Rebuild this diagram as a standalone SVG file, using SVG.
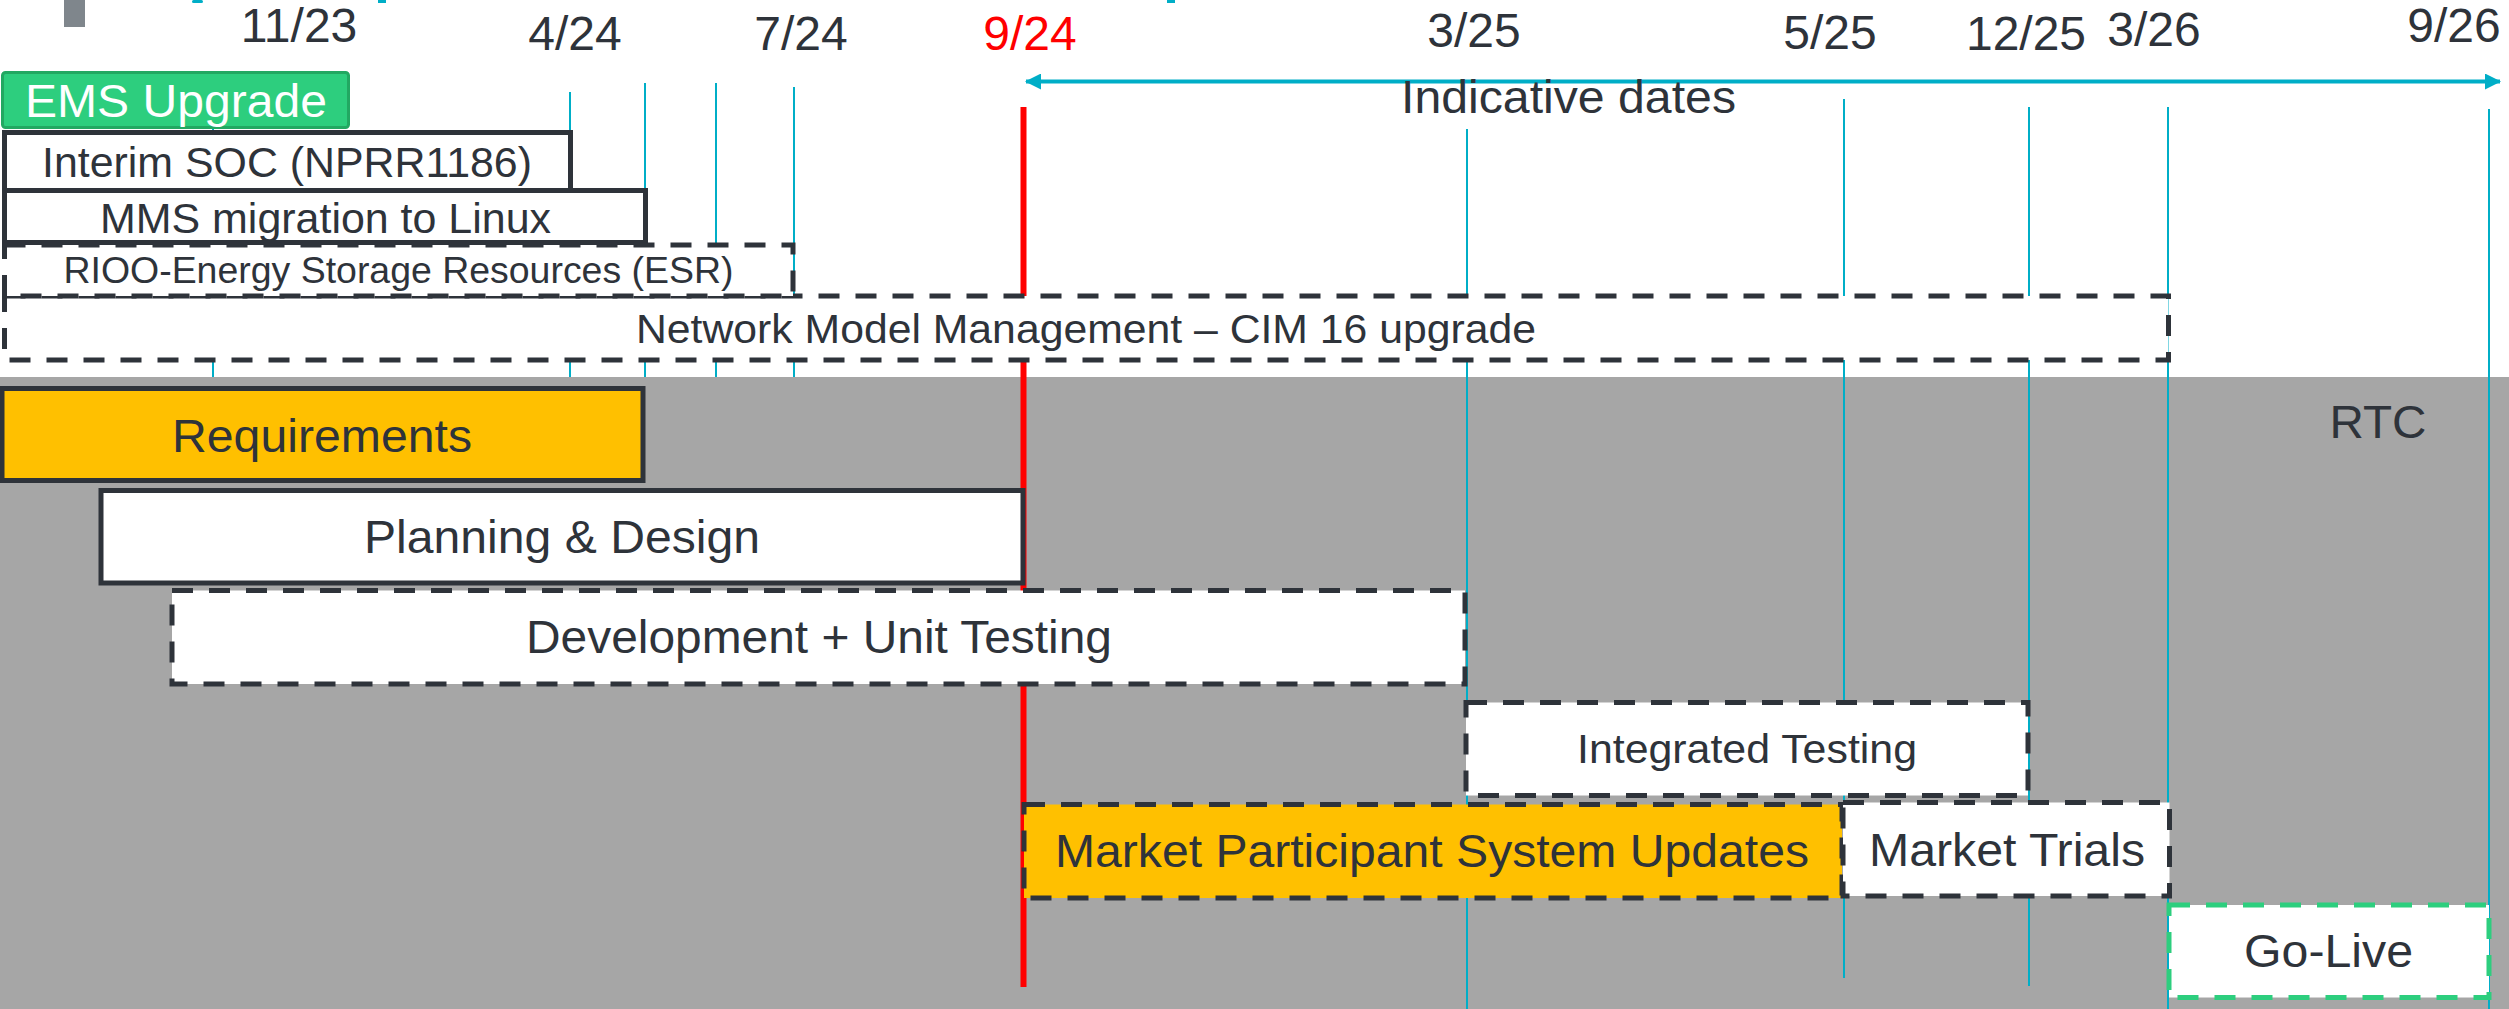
<svg xmlns="http://www.w3.org/2000/svg" width="2509" height="1009" viewBox="0 0 2509 1009">
<style>
text{font-family:"Liberation Sans",Arial,sans-serif;fill:#2E333A}
.date{font-size:48px;text-anchor:middle}
.lbl{font-size:46px;text-anchor:middle}
.box{stroke:#2E333A;stroke-width:5}
.dash{stroke-dasharray:21 16}
.grid{stroke:#00AEC7;stroke-width:2}
.white{fill:#FFFFFF}
.orange{fill:#FFC000}
</style>
<defs>
<marker id="ah" viewBox="0 0 16 16" refX="15" refY="8" markerWidth="16" markerHeight="16" markerUnits="userSpaceOnUse" orient="auto-start-reverse">
<path d="M0,0 L16,8 L0,16 Z" fill="#00AEC7"/>
</marker>
</defs>
<rect x="0" y="0" width="2509" height="1009" fill="#FFFFFF"/>
<g id="header-fragments">
<rect x="64" y="0" width="21" height="27" fill="#7F868C"/>
<rect x="192" y="0" width="11" height="3" rx="1.5" fill="#00AEC7"/>
<rect x="378" y="0" width="8" height="3" fill="#00AEC7"/>
<rect x="1167" y="0" width="8" height="3" fill="#00AEC7"/>
</g>
<g id="short-gridlines">
<line class="grid" x1="213" y1="100" x2="213" y2="377"/>
<line class="grid" x1="570" y1="92" x2="570" y2="377"/>
<line class="grid" x1="645" y1="83" x2="645" y2="377"/>
<line class="grid" x1="716" y1="83" x2="716" y2="377"/>
<line class="grid" x1="794" y1="87" x2="794" y2="377"/>
</g>
<rect id="rtc-band" x="0" y="377" width="2509" height="632" fill="#A6A6A6"/>
<g id="long-gridlines">
<line class="grid" x1="1467" y1="129" x2="1467" y2="1009"/>
<line class="grid" x1="1844" y1="99" x2="1844" y2="978"/>
<line class="grid" x1="2029" y1="107" x2="2029" y2="986"/>
<line class="grid" x1="2168" y1="107" x2="2168" y2="1009"/>
<line class="grid" x1="2489" y1="109" x2="2489" y2="1009"/>
</g>
<line id="today-line" x1="1023.5" y1="107" x2="1023.5" y2="987" stroke="#FF0000" stroke-width="6"/>
<g id="dates">
<text class="date" x="299" y="42">11/23</text>
<text class="date" x="575" y="50">4/24</text>
<text class="date" x="801" y="50">7/24</text>
<text class="date" x="1030" y="50" style="fill:#FF0000">9/24</text>
<text class="date" x="1474" y="47">3/25</text>
<text class="date" x="1830" y="49">5/25</text>
<text class="date" x="2026" y="50">12/25</text>
<text class="date" x="2154" y="46">3/26</text>
<text class="date" x="2454" y="42">9/26</text>
</g>
<g id="connectors">
<line x1="1026" y1="81.5" x2="2500" y2="81.5" stroke="#00AEC7" stroke-width="4" marker-start="url(#ah)" marker-end="url(#ah)"/>
</g>
<g id="indicative-dates">
<text class="lbl" x="1568.5" y="113" textLength="335" lengthAdjust="spacingAndGlyphs">Indicative dates</text>
</g>
<g id="ems-upgrade">
<rect x="2.5" y="72.5" width="346" height="55" rx="3" fill="#2DCE7E" stroke="#22A862" stroke-width="3"/>
<text class="lbl" x="176" y="117" textLength="302" lengthAdjust="spacingAndGlyphs" style="fill:#FFFFFF">EMS Upgrade</text>
</g>
<g id="interim-soc">
<rect class="box white" x="4.5" y="132.5" width="566" height="58"/>
<text class="lbl" x="287" y="177" textLength="490" lengthAdjust="spacingAndGlyphs" style="font-size:42px">Interim SOC (NPRR1186)</text>
</g>
<g id="mms-migration">
<rect class="box white" x="4.5" y="190.5" width="641" height="52"/>
<text class="lbl" x="325.5" y="233" textLength="451" lengthAdjust="spacingAndGlyphs" style="font-size:42px">MMS migration to Linux</text>
</g>
<g id="network-model">
<rect class="box dash white" x="4.5" y="296" width="2164" height="64"/>
<text class="lbl" x="1086" y="343" textLength="900" lengthAdjust="spacingAndGlyphs" style="font-size:41px">Network Model Management – CIM 16 upgrade</text>
</g>
<g id="rioo-esr">
<rect class="box dash white" x="4.5" y="245" width="788.5" height="51"/>
<text class="lbl" x="398.5" y="283" textLength="670" lengthAdjust="spacingAndGlyphs" style="font-size:36px">RIOO-Energy Storage Resources (ESR)</text>
</g>
<g id="rtc-label">
<text class="lbl" x="2378" y="438" textLength="97" lengthAdjust="spacingAndGlyphs">RTC</text>
</g>
<g id="requirements">
<rect class="box orange" x="2" y="388.5" width="641" height="92"/>
<text class="lbl" x="322" y="452" textLength="300" lengthAdjust="spacingAndGlyphs">Requirements</text>
</g>
<g id="planning-design">
<rect class="box white" x="101" y="490.5" width="922" height="92.5"/>
<text class="lbl" x="562" y="553" textLength="396" lengthAdjust="spacingAndGlyphs">Planning &amp; Design</text>
</g>
<g id="development">
<rect class="box dash white" x="172" y="590.5" width="1293" height="93.5"/>
<text class="lbl" x="819" y="653" textLength="586" lengthAdjust="spacingAndGlyphs">Development + Unit Testing</text>
</g>
<g id="integrated-testing">
<rect class="box dash white" x="1466" y="702.5" width="562" height="93"/>
<text class="lbl" x="1747" y="763" textLength="340" lengthAdjust="spacingAndGlyphs" style="font-size:41px">Integrated Testing</text>
</g>
<g id="mp-system-updates">
<rect class="box dash orange" x="1024" y="804.5" width="818" height="93.5"/>
<text class="lbl" x="1432" y="867" textLength="754" lengthAdjust="spacingAndGlyphs">Market Participant System Updates</text>
</g>
<g id="market-trials">
<rect class="box dash white" x="1843" y="802.5" width="326.5" height="93.5"/>
<text class="lbl" x="2007" y="866" textLength="276" lengthAdjust="spacingAndGlyphs">Market Trials</text>
</g>
<g id="go-live">
<rect class="dash white" x="2169" y="905" width="320" height="92.5" stroke="#2DCE7E" stroke-width="5"/>
<text class="lbl" x="2328.5" y="967" textLength="169" lengthAdjust="spacingAndGlyphs">Go-Live</text>
</g>
</svg>
